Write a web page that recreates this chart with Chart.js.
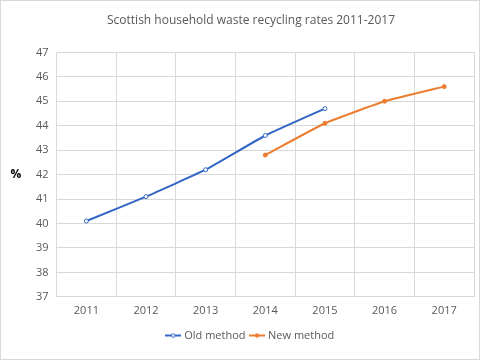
<!DOCTYPE html>
<html>
<head>
<meta charset="utf-8">
<script src="https://cdn.jsdelivr.net/npm/chart.js@4/dist/chart.umd.min.js"></script>
<style>
  html, body { margin: 0; padding: 0; background: #fff; }
  #wrap { width: 480px; height: 360px; box-sizing: border-box; border: 1px solid #d9d9d9; }
  canvas { display: block; }
</style>
</head>
<body>
<div id="wrap"><canvas id="chart" width="478" height="358"></canvas></div>
<script>
const years = ['2011', '2012', '2013', '2014', '2015', '2016', '2017'];
const oldMethod = [40.1, 41.1, 42.2, 43.6, 44.7, null, null];
const newMethod = [null, null, null, 42.8, 44.1, 45.0, 45.6];

const FONT = '"Open Sans", "Noto Sans", sans-serif';
const BLUE = '#3366c4';
const ORANGE = '#ed7d31';

// small legend marker: line with a dot in the middle
function marker(color, hollow) {
  const c = document.createElement('canvas');
  c.width = 16; c.height = 6;
  const g = c.getContext('2d');
  g.strokeStyle = color;
  g.lineWidth = 2;
  g.beginPath(); g.moveTo(0, 3); g.lineTo(16, 3); g.stroke();
  g.beginPath(); g.arc(8, 3, 1.8, 0, Math.PI * 2);
  g.fillStyle = hollow ? '#fff' : color;
  g.fill();
  g.lineWidth = 1;
  g.stroke();
  return c;
}
const markers = [marker(BLUE, true), marker(ORANGE, false)];

// draws the horizontal "%" axis label at the left
const percentLabel = {
  id: 'percentLabel',
  afterDraw(chart) {
    const c = chart.ctx;
    const y = chart.scales.y;
    c.save();
    c.font = 'bold 12px ' + FONT;
    c.fillStyle = '#000';
    c.textAlign = 'center';
    c.textBaseline = 'middle';
    c.fillText('%', 15, (y.top + y.bottom) / 2);
    c.restore();
  }
};

const ctx = document.getElementById('chart').getContext('2d');
new Chart(ctx, {
  type: 'line',
  data: {
    labels: years,
    datasets: [
      {
        label: 'Old method',
        data: oldMethod,
        borderColor: BLUE,
        backgroundColor: '#ffffff',
        borderWidth: 2,
        pointRadius: 2,
        pointBorderWidth: 1,
        pointBorderColor: BLUE,
        pointBackgroundColor: '#ffffff',
        tension: 0.1
      },
      {
        label: 'New method',
        data: newMethod,
        borderColor: ORANGE,
        backgroundColor: ORANGE,
        borderWidth: 2,
        pointRadius: 2,
        pointBorderWidth: 1,
        pointBackgroundColor: ORANGE,
        tension: 0.1
      }
    ]
  },
  options: {
    responsive: false,
    animation: false,
    layout: { padding: { left: 27, right: 5, top: 2, bottom: 8 } },
    plugins: {
      title: {
        display: true,
        text: 'Scottish household waste recycling rates 2011-2017',
        color: '#595959',
        font: { family: FONT, size: 12, weight: 'normal' },
        padding: { top: 10, bottom: 25 }
      },
      legend: {
        position: 'bottom',
        labels: {
          color: '#595959',
          font: { family: FONT, size: 11 },
          usePointStyle: true,
          padding: 6,
          generateLabels(chart) {
            return Chart.defaults.plugins.legend.labels.generateLabels(chart).map((l, i) => {
              l.pointStyle = markers[i];
              return l;
            });
          }
        }
      },
      tooltip: { enabled: false }
    },
    scales: {
      x: {
        offset: true,
        grid: { color: '#d9d9d9', offset: true, drawTicks: false },
        border: { color: '#d9d9d9' },
        ticks: { color: '#595959', font: { family: FONT, size: 11 }, padding: 7 }
      },
      y: {
        min: 37,
        max: 47,
        grid: { color: '#d9d9d9', drawTicks: false },
        border: { display: false },
        ticks: { stepSize: 1, color: '#595959', font: { family: FONT, size: 11 }, padding: 8 }
      }
    }
  },
  plugins: [percentLabel]
});
</script>
</body>
</html>
